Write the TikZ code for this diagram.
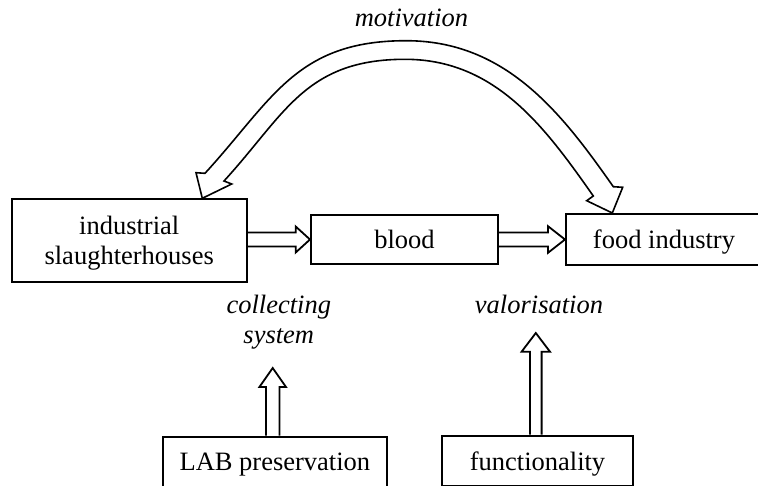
\documentclass[tikz,border=0pt]{standalone}
\usepackage{fontspec}
\setmainfont{Liberation Serif}
\usetikzlibrary{calc}

\tikzset{
  blk/.style={draw, line width=2pt, fill=white, align=center, inner sep=0pt,
    text depth=0pt, font=\fontsize{26.5}{30}\selectfont},
  lbl/.style={inner sep=0pt, align=center, font=\fontsize{26.5}{30}\selectfont\itshape},
  flow/.style={draw, line width=1.8pt, line join=miter},
  % hollow block arrow pointing right: shaft half width, head half width, head length
  harrow/.style n args={3}{to path={
    let \p1=(\tikztostart), \p2=(\tikztotarget) in
    (\x1,\y2+#1) -- (\x2-#3,\y2+#1) -- (\x2-#3,\y2+#2) -- (\x2,\y2)
    -- (\x2-#3,\y2-#2) -- (\x2-#3,\y2-#1) -- (\x1,\y2-#1)}},
  % hollow block arrow pointing up
  varrow/.style n args={3}{to path={
    let \p1=(\tikztostart), \p2=(\tikztotarget) in
    (\x2-#1,\y1) -- (\x2-#1,\y2-#3) -- (\x2-#2,\y2-#3) -- (\x2,\y2)
    -- (\x2+#2,\y2-#3) -- (\x2+#1,\y2-#3) -- (\x2+#1,\y1)}},
}

\begin{document}
\begin{tikzpicture}[x=1pt,y=1pt]
\useasboundingbox[fill=white] (0,0) rectangle (758,-485);

% boxes
\node[blk, minimum width=235pt, minimum height=82.4pt] (slaughter) at (129.2,-240.5) {industrial\\slaughterhouses};
\node[blk, minimum width=187pt, minimum height=49pt] (blood) at (404.5,-239.5) {blood};
\node[blk, minimum width=196pt, minimum height=51pt] (food) at (664,-239.5) {food industry};
\node[blk, minimum width=224.3pt, minimum height=50pt] (lab) at (274.9,-461.7) {LAB preservation};
\node[blk, minimum width=191.6pt, minimum height=50pt] (func) at (537.5,-460.7) {functionality};

% labels
\node[lbl, anchor=base] (motiv) at (411.5,-26.7) {motivation};
\node[lbl, anchor=north] (collect) at (278.8,-295.2) {collecting\\system};
\node[lbl, anchor=base] (valor) at (539,-313.3) {valorisation};

% flow arrows along the chain
\draw[flow, harrow={7pt}{13pt}{14.3pt}] (slaughter.east) to (blood.west);
\draw[flow, harrow={7pt}{13.3pt}{17pt}] (blood.east) to (food.west);

% upward arrows from the lower boxes
\coordinate (upL) at (272.7,-368);
\coordinate (upR) at (535.8,-333);
\draw[flow, varrow={6.7pt}{13.3pt}{19pt}] (lab.north) to (upL);
\draw[flow, varrow={5.8pt}{14.2pt}{18.7pt}] (func.north) to (upR);

% curved double-headed hollow arrow
\coordinate (tipL) at ($(slaughter.north west)+(191.6,0)$);
\coordinate (tipR) at ($(food.north west)+(47.3,0)$);
\draw[flow, line width=1.6pt]
  (tipL) -- (231.7,-184) -- (224,-181)
  .. controls (284.8,-114.7) and (305,-59.3) .. (405,-59.3)
  .. controls (495,-59.3) and (544.5,-126.4) .. (593.3,-196)
  -- (586.7,-200.7) -- (tipR) -- (622.7,-187.3) -- (613.3,-186.7)
  .. controls (561.6,-113) and (506,-40.7) .. (406,-40.7)
  .. controls (296,-40.7) and (272.5,-99.6) .. (205,-173.3)
  -- (196,-172.7) -- cycle;
\end{tikzpicture}
\end{document}
